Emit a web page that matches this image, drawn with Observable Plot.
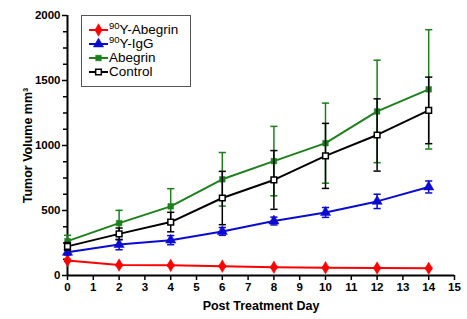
<!DOCTYPE html>
<html><head><meta charset="utf-8">
<script src="https://cdn.jsdelivr.net/npm/d3@7"></script>
<script src="https://cdn.jsdelivr.net/npm/@observablehq/plot@0.6"></script>
<style>
body{margin:0;background:#fff;}
#wrap{position:relative;width:467px;height:319px;font-family:"Liberation Sans",Arial,sans-serif;}
#legend{position:absolute;left:81px;top:15px;width:108px;border:1px solid #555;padding:7px 0 7px 0;background:#fff;}
.row{height:14px;display:flex;align-items:center;font-size:13.5px;line-height:14px;color:#000;white-space:nowrap;}
.row svg{margin-left:7px;margin-right:1px;flex:none;}
.sup{font-size:9.5px;position:relative;top:-4px;}
</style>
</head><body>
<div id="wrap"><div id="chart"></div><div id="legend"></div></div>
<script>
const days = [0, 2, 4, 6, 8, 10, 12, 14];
const seriesSup = ["90", "90", "", ""];
const seriesNames = ["Y-Abegrin", "Y-IgG", "Abegrin", "Control"];
const y90Abegrin = [116, 80, 78, 72, 64, 60, 57, 55];
const y90AbegrinErr = [8, 6, 6, 6, 5, 5, 5, 5];
const y90IgG = [178, 238, 272, 339, 419, 485, 570, 681];
const y90IgGErr = [20, 40, 35, 30, 30, 38, 55, 46];
const abegrin = [264, 403, 532, 740, 880, 1018, 1262, 1432];
const abegrinErr = [45, 98, 136, 206, 267, 308, 394, 459];
const control = [224, 320, 411, 596, 735, 920, 1081, 1270];
const controlErr = [30, 45, 75, 205, 226, 250, 278, 256];
const xTicks = d3.range(0, 16);
const yTicks = [0, 500, 1000, 1500, 2000];
const yMinorTicks = d3.range(0, 2001, 125).filter(v => v % 500 !== 0);
const xTitle = "Post Treatment Day";
const yTitle = "Tumor Volume mm³";

const colors = ["#ff0000", "#0a0ad2", "#1d801d", "#000000"];
const symbols = ["diamond", "triangle", "square", "square"];
const fills = ["#ff0000", "#0a0ad2", "#1d801d", "#ffffff"];
const radii = [3.8, 3.8, 3.2, 3.2];
const values = [y90Abegrin, y90IgG, abegrin, control];
const errors = [y90AbegrinErr, y90IgGErr, abegrinErr, controlErr];

const cap = {draw(ctx, size) { const w = Math.sqrt(size / Math.PI); ctx.moveTo(-w, 0); ctx.lineTo(w, 0); }};

const marks = [];
values.forEach((vals, i) => {
  const rows = days.map((d, j) => ({day: d, v: vals[j], lo: vals[j] - errors[i][j], hi: vals[j] + errors[i][j]}));
  marks.push(Plot.ruleX(rows, {x: "day", y1: "lo", y2: "hi", stroke: colors[i], strokeWidth: 1.5}));
  marks.push(Plot.dot(rows, {x: "day", y: "hi", symbol: cap, r: 3.6, stroke: colors[i], strokeWidth: 1.5, fill: "none"}));
  marks.push(Plot.dot(rows, {x: "day", y: "lo", symbol: cap, r: 3.6, stroke: colors[i], strokeWidth: 1.5, fill: "none"}));
  marks.push(Plot.line(rows, {x: "day", y: "v", stroke: colors[i], strokeWidth: 2}));
  marks.push(Plot.dot(rows, {x: "day", y: "v", symbol: symbols[i], r: radii[i], fill: fills[i], stroke: colors[i], strokeWidth: i === 3 ? 1.5 : 0.5}));
});

const svg = Plot.plot({
  width: 467, height: 319,
  marginLeft: 67, marginRight: 13, marginTop: 15, marginBottom: 44,
  x: {domain: [0, 15]},
  y: {domain: [0, 2000]},
  style: {fontFamily: "'Liberation Sans', Arial, sans-serif", fontSize: "11.5px", fontWeight: "bold", color: "#000", background: "#fff", overflow: "visible"},
  marks: [
    Plot.axisY(yMinorTicks, {tickSize: 4, tickFormat: () => "", label: null, strokeWidth: 1.5}),
    Plot.axisY(yTicks, {tickSize: 5, tickPadding: 2, strokeWidth: 1.5, tickFormat: d3.format("d"), label: yTitle, labelArrow: "none", labelAnchor: "center", labelOffset: 44}),
    Plot.axisX(xTicks, {tickSize: 5, tickPadding: 2, strokeWidth: 1.5, tickFormat: d3.format("d"), label: xTitle, labelArrow: "none", labelAnchor: "center", labelOffset: 34}),
    Plot.ruleX([0], {strokeWidth: 2}),
    Plot.ruleY([0], {strokeWidth: 2}),
    ...marks
  ]
});
d3.select(svg).selectAll("text").filter(function() { return this.textContent === xTitle || this.textContent === yTitle; }).style("font-size", "12.5px");
document.getElementById("chart").appendChild(svg);

const legend = document.getElementById("legend");
seriesNames.forEach((name, i) => {
  const row = document.createElement("div");
  row.className = "row";
  const sym = d3.symbol(d3["symbol" + symbols[i][0].toUpperCase() + symbols[i].slice(1)], radii[i] * radii[i] * Math.PI)();
  row.innerHTML = `<svg width="19" height="14"><line x1="0" x2="19" y1="7" y2="7" stroke="${colors[i]}" stroke-width="2"/><path d="${sym}" transform="translate(9.5,7)" fill="${fills[i]}" stroke="${colors[i]}" stroke-width="${i === 3 ? 1.5 : 0.5}"/></svg>` +
    (seriesSup[i] ? `<span class="sup">${seriesSup[i]}</span>` : "") + `<span>${name}</span>`;
  legend.appendChild(row);
});
</script>
</body></html>
